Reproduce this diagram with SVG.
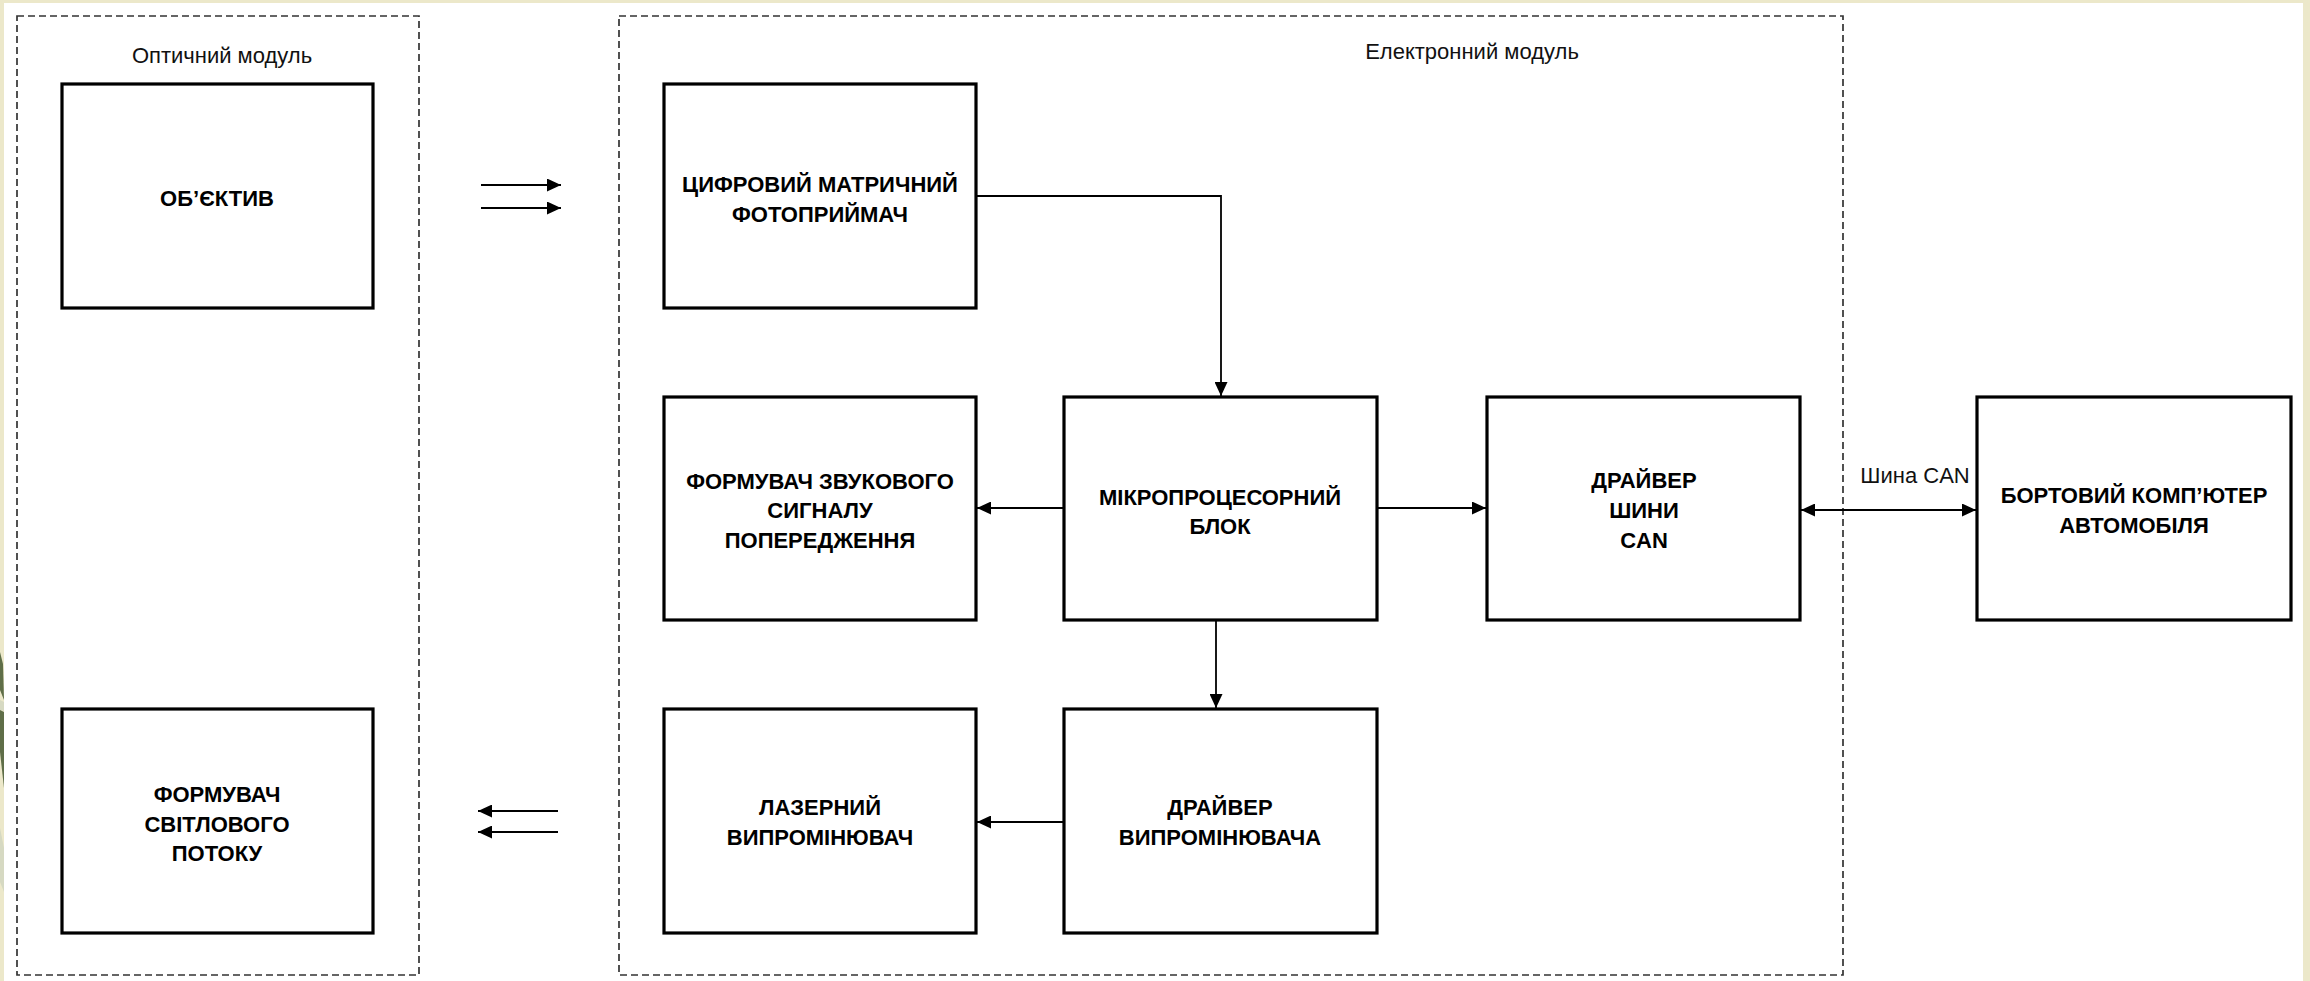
<svg xmlns="http://www.w3.org/2000/svg" width="2310" height="981" viewBox="0 0 2310 981">
<style>
.bg{fill:#ECE8CA}
.sheet{fill:#ffffff}
.module{fill:none;stroke:#333;stroke-width:1.7;stroke-dasharray:7 4}
.box{fill:#ffffff;stroke:#000;stroke-width:3.2}
.lbl{font-family:"Liberation Sans",Arial,sans-serif;font-weight:bold;font-size:22px;fill:#000;text-anchor:middle}
.cap{font-family:"Liberation Sans",Arial,sans-serif;font-size:22px;fill:#111;text-anchor:middle}
.conn{fill:none;stroke:#000;stroke-width:1.8}
.beam{fill:none;stroke:#000;stroke-width:2.2}
</style>
<defs>
<marker id="ah" markerUnits="userSpaceOnUse" markerWidth="15" markerHeight="13" refX="14" refY="6.5" orient="auto-start-reverse">
<path d="M0,0 L14,6.5 L0,13 z" fill="#000"/>
</marker>
</defs>
<rect class="bg" x="0" y="0" width="2310" height="981"/>
<rect class="sheet" x="4" y="3" width="2299" height="978"/>
<g id="leaf">
<polygon points="0,652 3,664 4,700 0,690" fill="#5f6e48"/>
<polygon points="0,700 4,702 4,711 0,710" fill="#d6d9c2"/>
<polygon points="0,710 4,712 4,788 0,752" fill="#5f6e48"/>
<polygon points="0,828 4,848 4,892 0,882" fill="#d6d9c2"/>
</g>
<g id="optical-module">
<rect class="module" x="17" y="16" width="402" height="959"/>
<text class="cap" x="222" y="63">Оптичний модуль</text>
</g>
<g id="electronic-module">
<rect class="module" x="619" y="16" width="1224" height="959"/>
<text class="cap" x="1472" y="59">Електронний модуль</text>
</g>
<g id="lens">
<rect class="box" x="62" y="84" width="311" height="224"/>
<text class="lbl" x="217" y="206">ОБ’ЄКТИВ</text>
</g>
<g id="light-former">
<rect class="box" x="62" y="709" width="311" height="224"/>
<text class="lbl" x="217" y="802">ФОРМУВАЧ</text>
<text class="lbl" x="217" y="832">СВІТЛОВОГО</text>
<text class="lbl" x="217" y="861">ПОТОКУ</text>
</g>
<g id="photodetector">
<rect class="box" x="664" y="84" width="312" height="224"/>
<text class="lbl" x="820" y="192">ЦИФРОВИЙ МАТРИЧНИЙ</text>
<text class="lbl" x="820" y="222">ФОТОПРИЙМАЧ</text>
</g>
<g id="sound-former">
<rect class="box" x="664" y="397" width="312" height="223"/>
<text class="lbl" x="820" y="489">ФОРМУВАЧ ЗВУКОВОГО</text>
<text class="lbl" x="820" y="518">СИГНАЛУ</text>
<text class="lbl" x="820" y="548">ПОПЕРЕДЖЕННЯ</text>
</g>
<g id="mcu">
<rect class="box" x="1064" y="397" width="313" height="223"/>
<text class="lbl" x="1220" y="505">МІКРОПРОЦЕСОРНИЙ</text>
<text class="lbl" x="1220" y="534">БЛОК</text>
</g>
<g id="can-driver">
<rect class="box" x="1487" y="397" width="313" height="223"/>
<text class="lbl" x="1644" y="488">ДРАЙВЕР</text>
<text class="lbl" x="1644" y="518">ШИНИ</text>
<text class="lbl" x="1644" y="548">CAN</text>
</g>
<g id="car-computer">
<rect class="box" x="1977" y="397" width="314" height="223"/>
<text class="lbl" x="2134" y="503">БОРТОВИЙ КОМП’ЮТЕР</text>
<text class="lbl" x="2134" y="533">АВТОМОБІЛЯ</text>
</g>
<g id="laser">
<rect class="box" x="664" y="709" width="312" height="224"/>
<text class="lbl" x="820" y="815">ЛАЗЕРНИЙ</text>
<text class="lbl" x="820" y="845">ВИПРОМІНЮВАЧ</text>
</g>
<g id="laser-driver">
<rect class="box" x="1064" y="709" width="313" height="224"/>
<text class="lbl" x="1220" y="815">ДРАЙВЕР</text>
<text class="lbl" x="1220" y="845">ВИПРОМІНЮВАЧА</text>
</g>
<g id="connectors">
<line class="beam" x1="481" y1="185" x2="561" y2="185" marker-end="url(#ah)"/>
<line class="beam" x1="481" y1="208" x2="561" y2="208" marker-end="url(#ah)"/>
<line class="beam" x1="558" y1="811" x2="478" y2="811" marker-end="url(#ah)"/>
<line class="beam" x1="558" y1="832" x2="478" y2="832" marker-end="url(#ah)"/>
<polyline class="conn" points="976,196 1221,196 1221,396" marker-end="url(#ah)"/>
<line class="conn" x1="1064" y1="508" x2="977" y2="508" marker-end="url(#ah)"/>
<line class="conn" x1="1377" y1="508" x2="1486" y2="508" marker-end="url(#ah)"/>
<line class="conn" x1="1801" y1="510" x2="1976" y2="510" marker-start="url(#ah)" marker-end="url(#ah)"/>
<line class="conn" x1="1216" y1="620" x2="1216" y2="708" marker-end="url(#ah)"/>
<line class="conn" x1="1064" y1="822" x2="977" y2="822" marker-end="url(#ah)"/>
<text class="cap" x="1915" y="483">Шина CAN</text>
</g>
</svg>
